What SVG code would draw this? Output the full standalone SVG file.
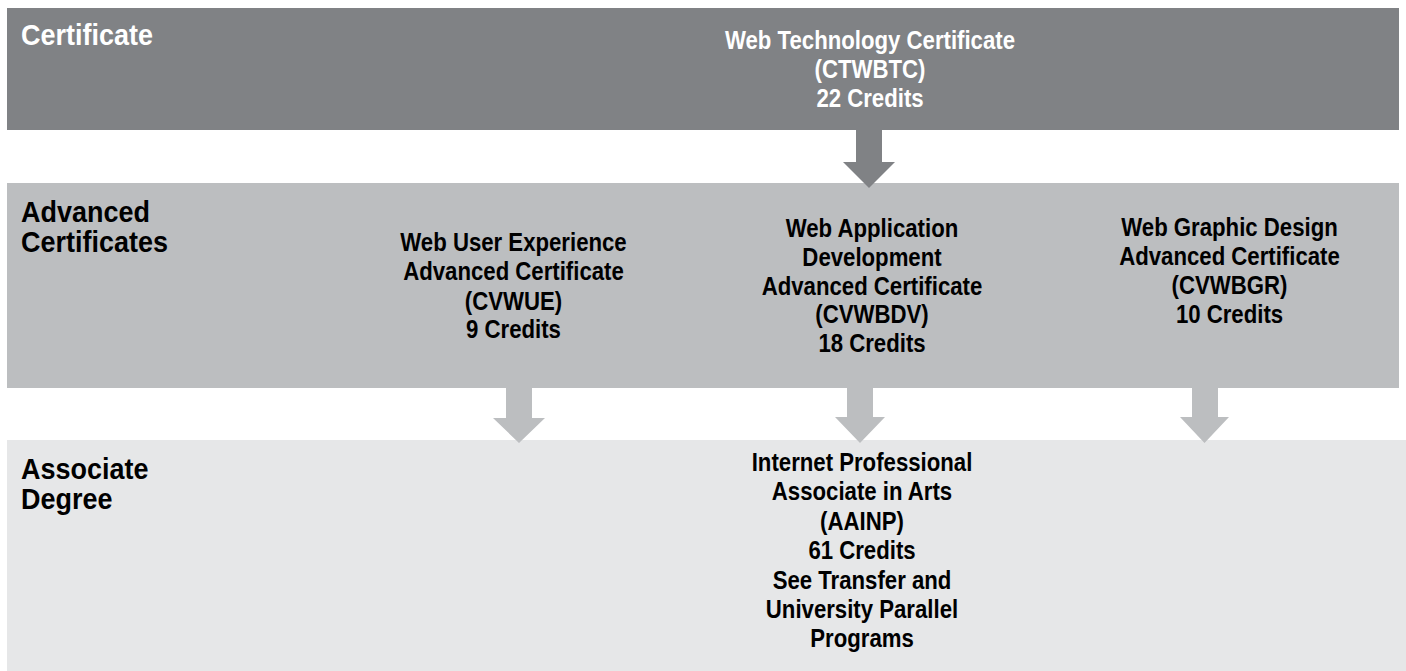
<svg xmlns="http://www.w3.org/2000/svg" width="1406" height="671" viewBox="0 0 1406 671">
  <style>
    .t { font-family: "Liberation Sans", Arial, sans-serif; font-weight: bold; }
    .head { font-size: 29px; }
    .node { font-size: 25.5px; text-anchor: middle; }
    .w { fill: #ffffff; }
    .k { fill: #000000; }
    .dark { fill: #808285; }
    .mid { fill: #bcbec0; }
    .light { fill: #e6e7e8; }
  </style>
  <rect width="1406" height="671" fill="#ffffff"/>

  <g id="band-certificate">
    <rect class="dark" x="7" y="8" width="1392" height="122"/>
    <g transform="translate(21,0) scale(0.93,1)">
      <text class="t head w" x="0" y="45">Certificate</text>
    </g>
  </g>
  <g id="band-advanced">
    <rect class="mid" x="7" y="183" width="1392" height="205"/>
    <g transform="translate(21,0) scale(0.93,1)">
      <text class="t head k" x="0" y="222">Advanced<tspan x="0" y="252">Certificates</tspan></text>
    </g>
  </g>
  <g id="band-associate">
    <rect class="light" x="7" y="440" width="1399" height="231"/>
    <g transform="translate(21,0) scale(0.93,1)">
      <text class="t head k" x="0" y="479.5">Associate<tspan x="0" y="509.5">Degree</tspan></text>
    </g>
  </g>

  <g id="connectors">
    <polygon class="dark" points="856,130 882,130 882,162 895,162 869,188 843,162 856,162"/>
    <polygon class="mid" points="506,388 532,388 532,418 545,418 519,443 493,418 506,418"/>
    <polygon class="mid" points="847,388 873,388 873,417 885,417 860,443 835,417 847,417"/>
    <polygon class="mid" points="1192,388 1218,388 1218,417 1229,417 1204.5,443 1180,417 1192,417"/>
  </g>

  <g id="node-ctwbtc" transform="translate(870,0) scale(0.87,1)">
    <text class="t node w" x="0" y="49.5">Web Technology Certificate</text>
    <text class="t node w" x="0" y="78">(CTWBTC)</text>
    <text class="t node w" x="0" y="107">22 Credits</text>
  </g>

  <g id="node-cvwue" transform="translate(513.5,0) scale(0.87,1)">
    <text class="t node k" x="0" y="251">Web User Experience</text>
    <text class="t node k" x="0" y="280.5">Advanced Certificate</text>
    <text class="t node k" x="0" y="310">(CVWUE)</text>
    <text class="t node k" x="0" y="338.5">9 Credits</text>
  </g>

  <g id="node-cvwbdv" transform="translate(872,0) scale(0.87,1)">
    <text class="t node k" x="0" y="237">Web Application</text>
    <text class="t node k" x="0" y="266">Development</text>
    <text class="t node k" x="0" y="295">Advanced Certificate</text>
    <text class="t node k" x="0" y="323.5">(CVWBDV)</text>
    <text class="t node k" x="0" y="352.5">18 Credits</text>
  </g>

  <g id="node-cvwbgr" transform="translate(1229.5,0) scale(0.87,1)">
    <text class="t node k" x="0" y="236.5">Web Graphic Design</text>
    <text class="t node k" x="0" y="265.5">Advanced Certificate</text>
    <text class="t node k" x="0" y="294.5">(CVWBGR)</text>
    <text class="t node k" x="0" y="323">10 Credits</text>
  </g>

  <g id="node-aainp" transform="translate(862,0) scale(0.87,1)">
    <text class="t node k" x="0" y="471.5">Internet Professional</text>
    <text class="t node k" x="0" y="500.5">Associate in Arts</text>
    <text class="t node k" x="0" y="530">(AAINP)</text>
    <text class="t node k" x="0" y="559.5">61 Credits</text>
    <text class="t node k" x="0" y="589">See Transfer and</text>
    <text class="t node k" x="0" y="618">University Parallel</text>
    <text class="t node k" x="0" y="647.5">Programs</text>
  </g>
</svg>
